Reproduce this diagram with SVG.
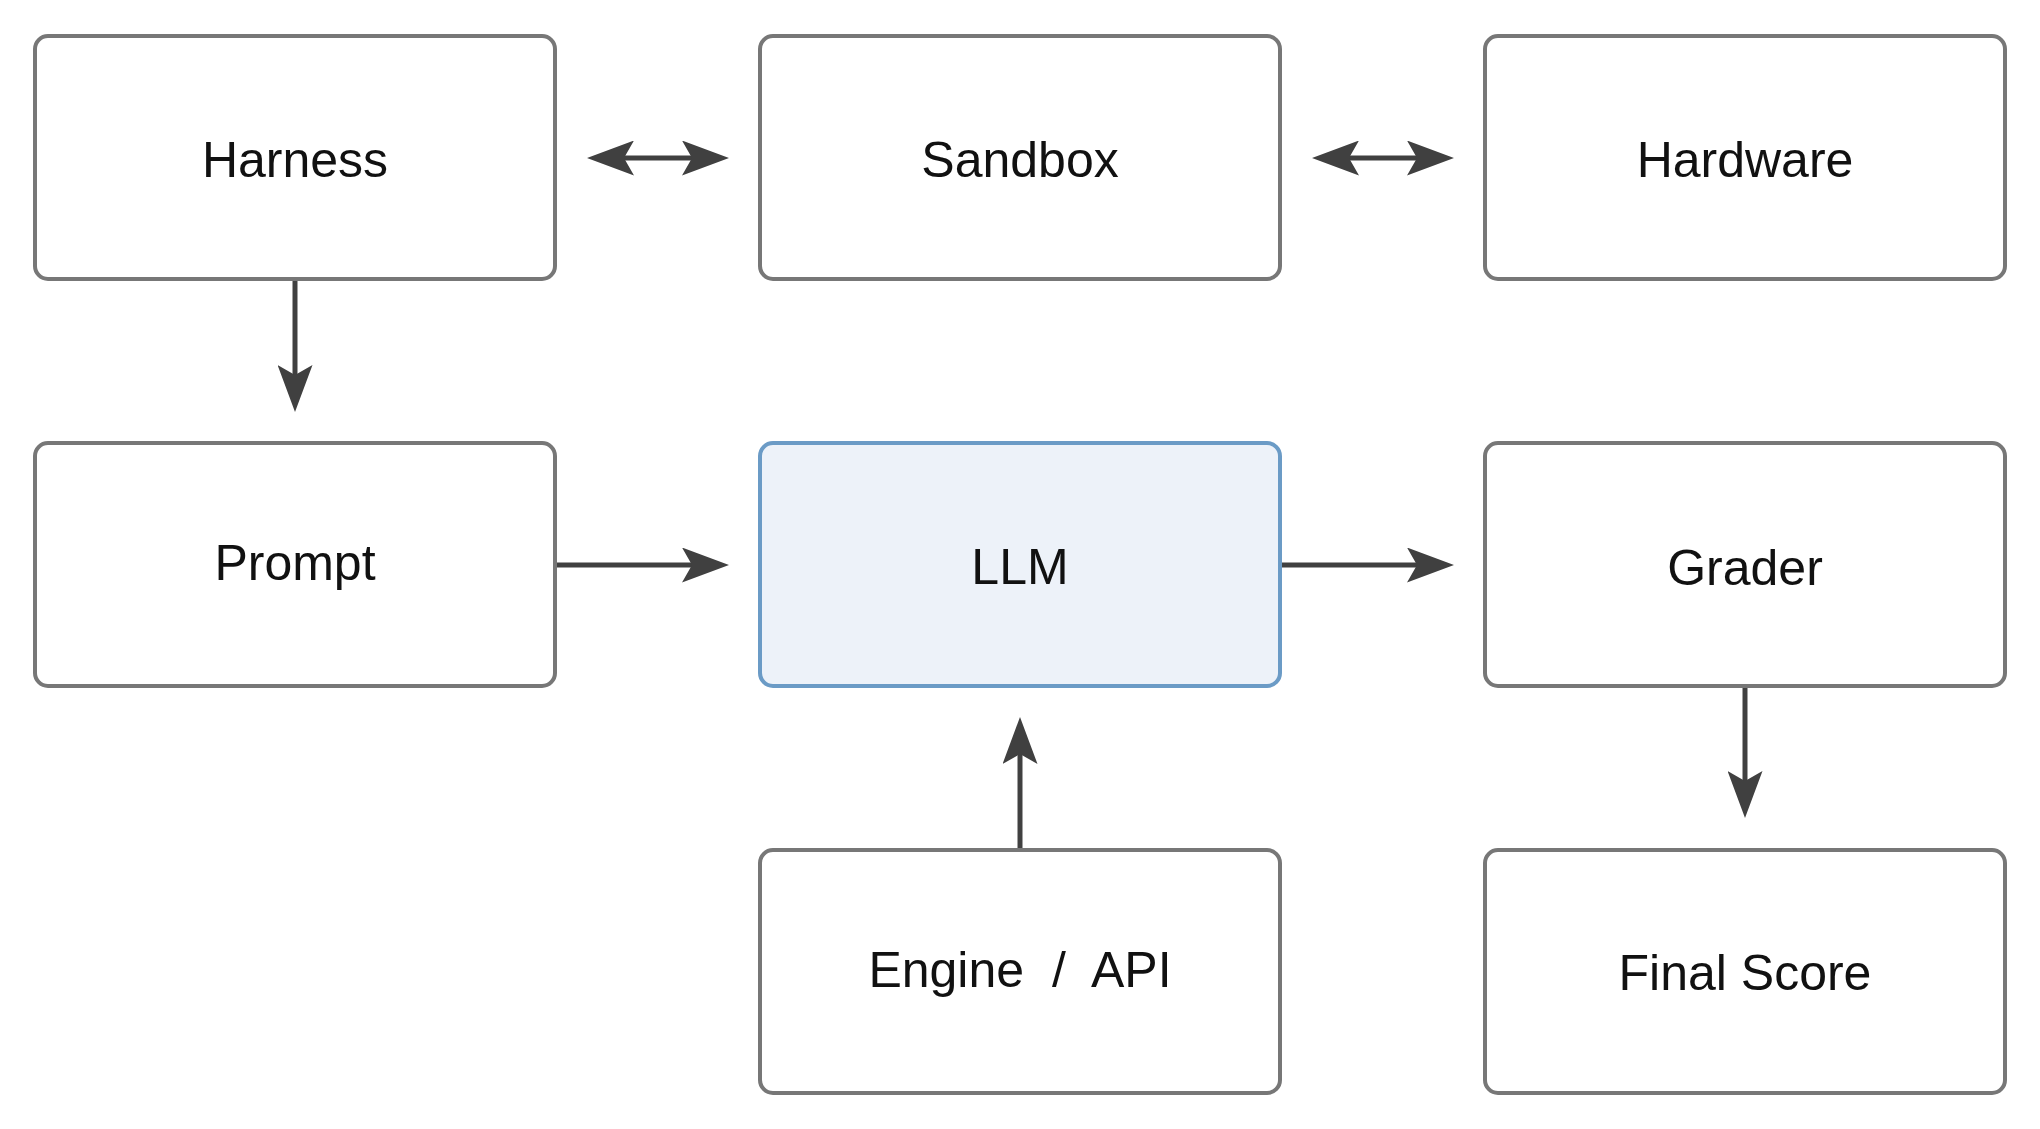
<svg xmlns="http://www.w3.org/2000/svg" width="2040" height="1129" viewBox="0 0 2040 1129">
<style>
.box{fill:#ffffff;stroke:#777777;stroke-width:4}
.hl{fill:#edf2f9;stroke:#6b9bc6;stroke-width:4}
.lbl{font-family:"Liberation Sans",Arial,sans-serif;font-size:50px;fill:#111111;text-anchor:middle}
.edge{stroke:#404040;stroke-width:5;fill:none}
</style>
<defs>
<marker id="ah" markerUnits="userSpaceOnUse" viewBox="0 0 47 35" markerWidth="47" markerHeight="35" refX="10" refY="17.5" orient="auto-start-reverse">
<path d="M0,0 L47,17.5 L0,35 L10,17.5 Z" fill="#404040"/>
</marker>
</defs>
<rect width="2040" height="1129" fill="#ffffff"/>
<g id="connectors">
<line class="edge" x1="624" y1="158" x2="692" y2="158" marker-start="url(#ah)" marker-end="url(#ah)"/>
<line class="edge" x1="1349" y1="158" x2="1417" y2="158" marker-start="url(#ah)" marker-end="url(#ah)"/>
<line class="edge" x1="295" y1="280" x2="295" y2="375" marker-end="url(#ah)"/>
<line class="edge" x1="557" y1="565" x2="692" y2="565" marker-end="url(#ah)"/>
<line class="edge" x1="1282" y1="565" x2="1417" y2="565" marker-end="url(#ah)"/>
<line class="edge" x1="1020" y1="850" x2="1020" y2="754" marker-end="url(#ah)"/>
<line class="edge" x1="1745" y1="688" x2="1745" y2="781" marker-end="url(#ah)"/>
</g>
<g id="harness"><rect class="box" x="35" y="36" width="520" height="243" rx="13"/><text class="lbl" x="295" y="177">Harness</text></g>
<g id="sandbox"><rect class="box" x="760" y="36" width="520" height="243" rx="13"/><text class="lbl" x="1020" y="177">Sandbox</text></g>
<g id="hardware"><rect class="box" x="1485" y="36" width="520" height="243" rx="13"/><text class="lbl" x="1745" y="177">Hardware</text></g>
<g id="prompt"><rect class="box" x="35" y="443" width="520" height="243" rx="13"/><text class="lbl" x="295" y="580">Prompt</text></g>
<g id="llm"><rect class="hl" x="760" y="443" width="520" height="243" rx="13"/><text class="lbl" x="1020" y="584">LLM</text></g>
<g id="grader"><rect class="box" x="1485" y="443" width="520" height="243" rx="13"/><text class="lbl" x="1745" y="585">Grader</text></g>
<g id="engine"><rect class="box" x="760" y="850" width="520" height="243" rx="13"/><text class="lbl" x="1020" y="987" word-spacing="14">Engine / API</text></g>
<g id="final"><rect class="box" x="1485" y="850" width="520" height="243" rx="13"/><text class="lbl" x="1745" y="990">Final Score</text></g>
</svg>
